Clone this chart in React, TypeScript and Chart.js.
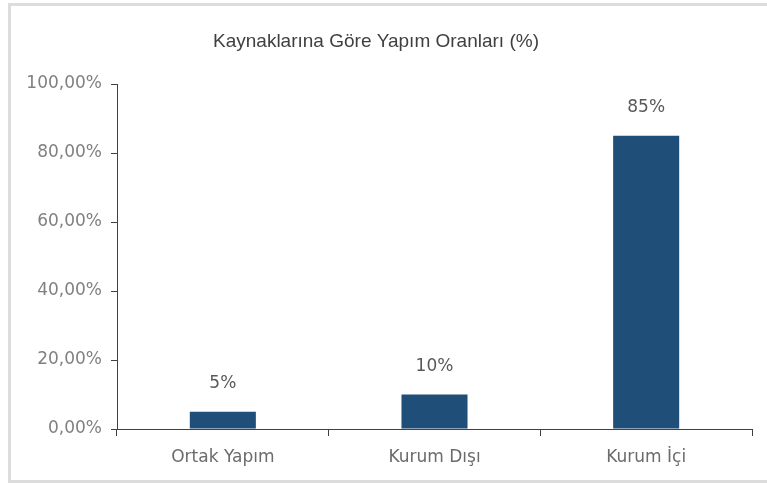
import React, { useEffect, useRef } from "react";
import { Chart, registerables } from "chart.js";

Chart.register(...registerables);

const title = "Kaynaklarına Göre Yapım Oranları (%)";
const categories = ["Ortak Yapım", "Kurum Dışı", "Kurum İçi"];
const values = [5, 10, 85];
const valueLabels = ["5%", "10%", "85%"];
const yTicks = [0, 20, 40, 60, 80, 100];

const BAR_COLOR = "#1F4E79";

export default function App() {
  const ref = useRef<HTMLCanvasElement | null>(null);

  useEffect(() => {
    const canvas = ref.current;
    if (!canvas) return;

    const titlePlugin = {
      id: "customTitle",
      afterDraw(chart: any) {
        const ctx = chart.ctx;
        ctx.save();
        ctx.font = "19px 'Liberation Sans', Arial, sans-serif";
        ctx.fillStyle = "#404040";
        ctx.textAlign = "center";
        ctx.textBaseline = "middle";
        ctx.fillText(title, 376, 42);
        ctx.restore();
      },
    };

    const labelPlugin = {
      id: "valueLabels",
      afterDatasetsDraw(chart: any) {
        const ctx = chart.ctx;
        const meta = chart.getDatasetMeta(0);
        ctx.save();
        ctx.font = "17px 'DejaVu Sans', sans-serif";
        ctx.fillStyle = "#595959";
        ctx.textAlign = "center";
        ctx.textBaseline = "middle";
        meta.data.forEach((bar: any, i: number) => {
          ctx.fillText(valueLabels[i], bar.x, bar.y - 28);
        });
        ctx.restore();
      },
    };

    const chart = new Chart(canvas, {
      type: "bar",
      data: {
        labels: categories,
        datasets: [
          {
            data: values,
            backgroundColor: BAR_COLOR,
            borderWidth: 0,
            barPercentage: 0.312,
            categoryPercentage: 1,
          },
        ],
      },
      options: {
        responsive: false,
        animation: false,
        layout: { padding: { left: 0, right: 15, top: 84, bottom: 0 } },
        plugins: {
          legend: { display: false },
          title: { display: false },
          tooltip: { enabled: false },
        },
        scales: {
          x: {
            offset: true,
            grid: {
              display: true,
              offset: true,
              drawOnChartArea: false,
              drawTicks: true,
              tickLength: 7,
              color: "#404040",
              lineWidth: 1,
            },
            border: { display: true, color: "#404040", width: 1 },
            ticks: {
              color: "#6b6b6b",
              font: { family: "'DejaVu Sans', sans-serif", size: 17 },
              padding: 11,
            },
            afterFit(scale: any) {
              scale.height = 54;
            },
          },
          y: {
            min: 0,
            max: 100,
            afterBuildTicks(scale: any) {
              scale.ticks = yTicks.map((v) => ({ value: v }));
            },
            grid: {
              display: true,
              drawOnChartArea: false,
              drawTicks: true,
              tickLength: 6,
              color: "#404040",
              lineWidth: 1,
            },
            border: { display: true, color: "#404040", width: 1 },
            ticks: {
              color: "#808080",
              font: { family: "'DejaVu Sans', sans-serif", size: 17 },
              padding: 9,
              callback: (v: any) => Number(v).toFixed(2).replace(".", ",") + "%",
            },
            afterFit(scale: any) {
              scale.width = 117;
            },
          },
        },
      },
      plugins: [titlePlugin, labelPlugin],
    });

    return () => chart.destroy();
  }, []);

  return (
    <div style={{ position: "absolute", left: 0, top: 0, width: 767, height: 483, background: "#fff", overflow: "hidden" }}>
      <div
        style={{
          position: "absolute",
          left: 8,
          top: 3,
          width: 800,
          height: 474,
          borderLeft: "3px solid #dcdcdc",
          borderTop: "3px solid #dcdcdc",
          borderBottom: "3px solid #dcdcdc",
        }}
      />
      <canvas ref={ref} width={767} height={483} style={{ position: "absolute", left: 0, top: 0 }} />
    </div>
  );
}
